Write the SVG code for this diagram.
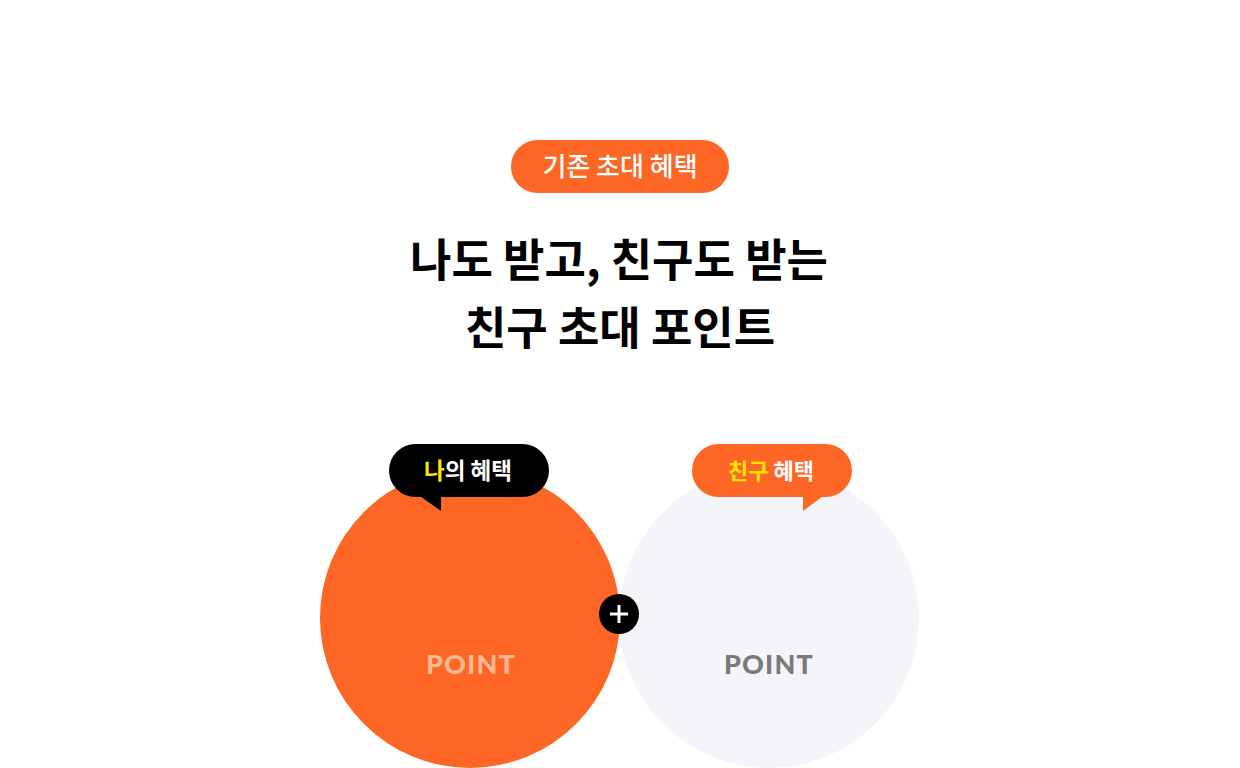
<svg xmlns="http://www.w3.org/2000/svg" width="1240" height="768" viewBox="0 0 1240 768">
<style>
.kr{font-family:"Noto Sans CJK KR","Noto Sans",sans-serif;text-anchor:middle}
.pt{font-family:"Lato","Liberation Sans",sans-serif;font-weight:900;font-size:27px;text-anchor:middle;letter-spacing:1.2px}
</style>
<rect width="1240" height="768" fill="#ffffff"/>
<g id="badge">
<rect x="511" y="140" width="218" height="53" rx="26.5" fill="#FD6624"/>
<text class="kr" x="620" y="176" font-size="26" font-weight="500" fill="#ffffff">기존 초대 혜택</text>
</g>
<g id="title">
<text class="kr" x="619" y="277" font-size="45" font-weight="700" fill="#000000">나도 받고, 친구도 받는</text>
<text class="kr" x="620" y="345" font-size="45" font-weight="700" fill="#000000">친구 초대 포인트</text>
</g>
<g id="my-circle">
<circle cx="470" cy="618" r="150" fill="#FD6624"/>
<text class="pt" x="471" y="674" fill="#FFB894">POINT</text>
</g>
<g id="friend-circle">
<circle cx="769" cy="618" r="150" fill="#F4F5F9"/>
<text class="pt" x="769" y="674" fill="#7A7A7A">POINT</text>
</g>
<g id="my-bubble">
<rect x="389" y="444" width="160" height="53" rx="26.5" fill="#000000"/>
<polygon points="420,496 441,496 441,511" fill="#000000"/>
<text class="kr" x="468" y="479" font-size="22.5" font-weight="700" fill="#ffffff"><tspan fill="#FFE600">나</tspan>의 혜택</text>
</g>
<g id="friend-bubble">
<rect x="692" y="444" width="160" height="53" rx="26.5" fill="#FD6624"/>
<polygon points="803,496 823,496 803,511" fill="#FD6624"/>
<text class="kr" x="771" y="479" font-size="22" font-weight="700" fill="#ffffff"><tspan fill="#FFE600">친구</tspan> 혜택</text>
</g>
<g id="plus">
<circle cx="619" cy="614" r="20" fill="#000000"/>
<path d="M619,605 V623 M610,614 H628" stroke="#ffffff" stroke-width="3"/>
</g>
</svg>
